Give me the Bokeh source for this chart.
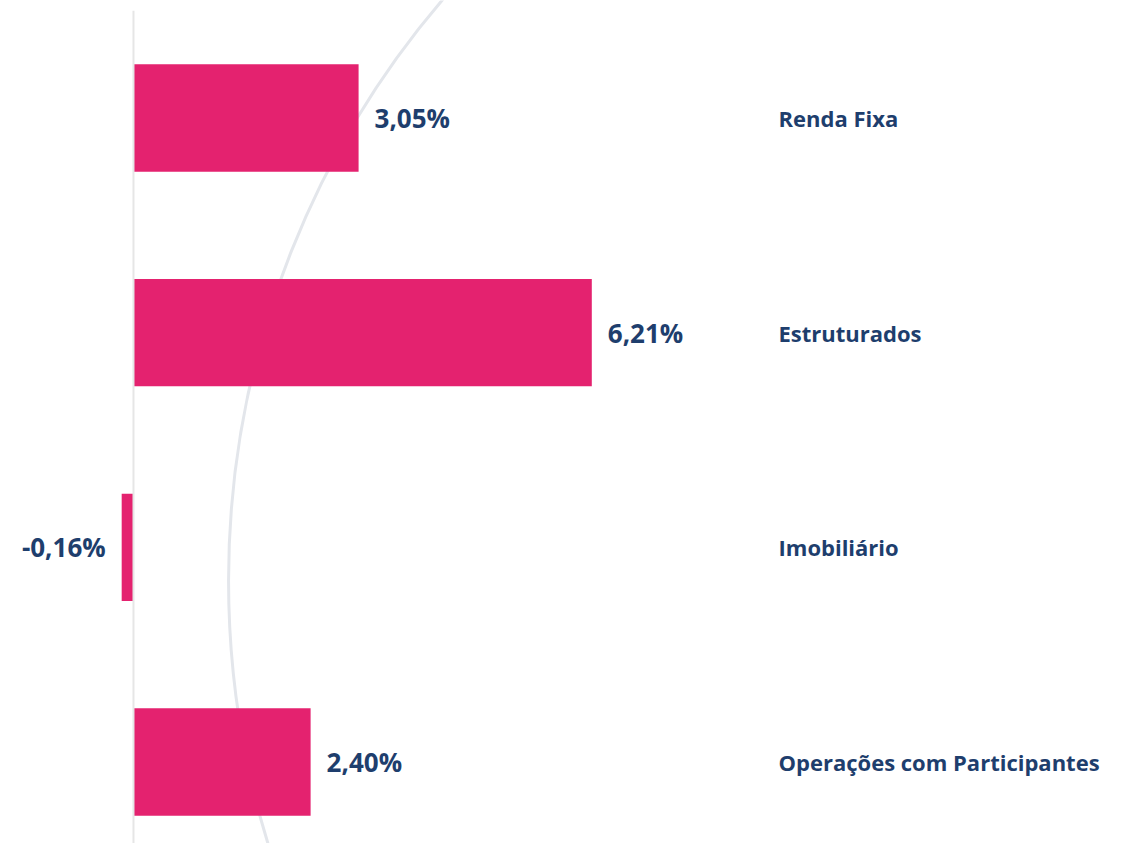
from bokeh.plotting import figure
from bokeh.models import Range1d, ColumnDataSource
from bokeh.core.properties import value
from bokeh.embed import file_html
from bokeh.resources import INLINE

categories = ["Renda Fixa", "Estruturados", "Imobiliário", "Operações com Participantes"]
values = [3.05, 6.21, -0.16, 2.40]
value_labels = ["3,05%", "6,21%", "-0,16%", "2,40%"]

PINK = "#E4226F"
NAVY = "#1E3E6D"

W, H = 1106, 843
p = figure(width=W, height=H, output_backend="svg", toolbar_location=None,
           x_range=Range1d(-1.802, 13.184), y_range=Range1d(3.3796, -0.5474),
           min_border=0, min_border_left=0, min_border_right=0,
           min_border_top=0, min_border_bottom=0)
p.axis.visible = False
p.grid.visible = False
p.outline_line_color = None
p.background_fill_color = "white"
p.border_fill_color = "white"

idx = list(range(len(categories)))

# decorative background arc
p.scatter(x=[13.415], y=[2.155], size=1790, marker="circle",
          fill_alpha=0, line_color="#E3E6EB", line_width=3)

src = ColumnDataSource(dict(y=idx, v=values, cat=categories, lab=value_labels))
p.hbar(y="y", left=0, right="v", height=0.5, source=src,
       fill_color=PINK, line_color=None)

# axis line at zero
p.segment(x0=[0], y0=[-0.50], x1=[0], y1=[3.6], line_color="#E6E6E6", line_width=2)

pos = [i for i in idx if values[i] >= 0]
neg = [i for i in idx if values[i] < 0]
p.text(x=[values[i] for i in pos], y=[i for i in pos], text=[value_labels[i] for i in pos],
       x_offset=16, text_align="left", text_baseline="middle",
       text_font=value("Open Sans"), text_font_style="bold",
       text_font_size="26px", text_color=NAVY)
p.text(x=[values[i] for i in neg], y=[i for i in neg], text=[value_labels[i] for i in neg],
       x_offset=-16, text_align="right", text_baseline="middle",
       text_font=value("Open Sans"), text_font_style="bold",
       text_font_size="26px", text_color=NAVY)

# category labels on the right
p.text(x=[(778 - 133) / 73.8] * len(categories), y=idx, text=categories,
       text_align="left", text_baseline="middle",
       text_font=value("Open Sans"), text_font_style="bold",
       text_font_size="22px", text_color=NAVY)

open("out.html", "w").write(file_html(p, INLINE))
